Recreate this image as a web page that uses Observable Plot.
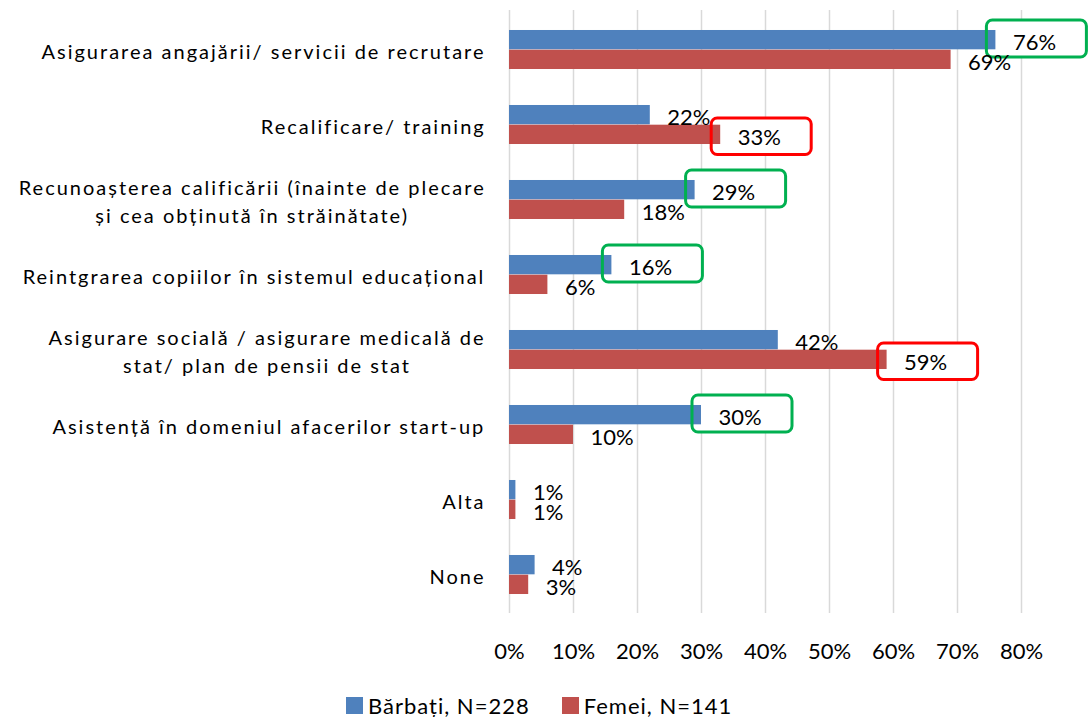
<!DOCTYPE html>
<html>
<head>
<meta charset="utf-8">
<script src="https://cdn.jsdelivr.net/npm/d3@7"></script>
<script src="https://cdn.jsdelivr.net/npm/@observablehq/plot@0.6"></script>
<style>
  body { margin: 0; background: #fff; font-family: Lato, sans-serif; color: #000; }
  #legend { width: 1088px; height: 26px; display: flex; justify-content: flex-start; align-items: center; font-size: 22px; letter-spacing: 1px; padding-left: 346px; box-sizing: border-box; }
  #legend .item { display: flex; align-items: center; }
  #legend .sw { width: 17px; height: 17px; margin-right: 5px; }
  #legend .item + .item { margin-left: 32px; }
  svg g[font-size="20"] text { letter-spacing: 2px; }
</style>
</head>
<body>
<div id="chart"></div>
<div id="legend"></div>
<script>
// ---- data ----
const categories = [
  "Asigurarea angajării/ servicii de recrutare",
  "Recalificare/ training",
  "Recunoașterea calificării (înainte de plecare\nși cea obținută în străinătate)",
  "Reintgrarea copiilor în sistemul educațional",
  "Asigurare socială / asigurare medicală de\nstat/ plan de pensii de stat",
  "Asistență în domeniul afacerilor start-up",
  "Alta",
  "None"
];
const seriesNames = ["Bărbați, N=228", "Femei, N=141"];
const menValues = [76, 22, 29, 16, 42, 30, 1, 4];
const womenValues = [69, 33, 18, 6, 59, 10, 1, 3];
const xTicks = [0, 10, 20, 30, 40, 50, 60, 70, 80];
// highlighted labels (green boxes on men's values, red boxes on women's values)
const greenBoxedMen = [categories[0], categories[2], categories[3], categories[5]];
const redBoxedWomen = [categories[1], categories[4]];

// ---- style ----
const colors = ["#4F81BD", "#C0504D"];
const W = 1088, H = 692;
const mL = 509, mR = 67, mT = 10, mB = 79;
const step = (H - mT - mB) / categories.length;
const barH = 19.7;
const half = step / 2;

const menRows = categories.map((c, i) => ({category: c, value: menValues[i]}));
const womenRows = categories.map((c, i) => ({category: c, value: womenValues[i]}));
const menBoxes = menRows.filter(d => greenBoxedMen.includes(d.category));
const womenBoxes = womenRows.filter(d => redBoxedWomen.includes(d.category));

const catFont = 20, catSpacing = 2;
const ctx = document.createElement("canvas").getContext("2d");
ctx.font = `${catFont}px Lato`;
const blockWidth = s => Math.max(...s.split("\n").map(l => ctx.measureText(l).width + catSpacing * l.length));

const boxGeomMen = {insetLeft: -9, insetRight: -91, insetTop: 8, insetBottom: 30, rx: 6, ry: 6};
const boxGeomWomen = {insetLeft: -9, insetRight: -91, insetTop: 31, insetBottom: 7.5, rx: 6, ry: 6};

const catLabelMarks = categories.map(c => Plot.text([c], {
  y: d => d, text: d => d, frameAnchor: "left", textAnchor: "middle",
  dx: -26 + catSpacing - blockWidth(c) / 2, fontSize: catFont, lineHeight: 1.4, fill: "#000"
}));

const chart = Plot.plot({
  width: W, height: H,
  marginLeft: mL, marginRight: mR, marginTop: mT, marginBottom: mB,
  style: {fontFamily: "Lato, sans-serif", fontSize: "22px", color: "#000", background: "#fff"},
  x: {domain: [0, 80], ticks: xTicks, tickFormat: d => d + "%", tickSize: 0, tickPadding: 30, label: null},
  y: {domain: categories, padding: 0, axis: null},
  marks: [
    Plot.ruleX(xTicks, {stroke: "#d9d9d9", strokeWidth: 1.5}),
    Plot.barX(menBoxes, {x1: "value", x2: "value", y: "category", fill: "#fff", ...boxGeomMen}),
    Plot.barX(womenBoxes, {x1: "value", x2: "value", y: "category", fill: "#fff", ...boxGeomWomen}),
    Plot.barX(menRows, {x1: 0, x2: "value", y: "category", fill: colors[0], insetTop: half - barH, insetBottom: half}),
    Plot.barX(womenRows, {x1: 0, x2: "value", y: "category", fill: colors[1], insetTop: half, insetBottom: half - barH}),
    Plot.barX(menBoxes, {x1: "value", x2: "value", y: "category", fill: "none", stroke: "#00B050", strokeWidth: 3, ...boxGeomMen}),
    Plot.barX(womenBoxes, {x1: "value", x2: "value", y: "category", fill: "none", stroke: "#FF0000", strokeWidth: 3, ...boxGeomWomen}),
    Plot.text(menRows, {x: "value", y: "category", text: d => d.value + "%", textAnchor: "start", dx: 17, dy: -7, fontSize: 22, fill: "#000"}),
    Plot.text(womenRows, {x: "value", y: "category", text: d => d.value + "%", textAnchor: "start", dx: 17, dy: 13, fontSize: 22, fill: "#000"}),
    ...catLabelMarks
  ]
});
document.getElementById("chart").append(chart);

const legend = document.getElementById("legend");
seriesNames.forEach((name, i) => {
  const item = document.createElement("div");
  item.className = "item";
  const sw = document.createElement("div");
  sw.className = "sw";
  sw.style.background = colors[i];
  const t = document.createElement("span");
  t.textContent = name;
  item.append(sw, t);
  legend.append(item);
});
</script>
</body>
</html>
